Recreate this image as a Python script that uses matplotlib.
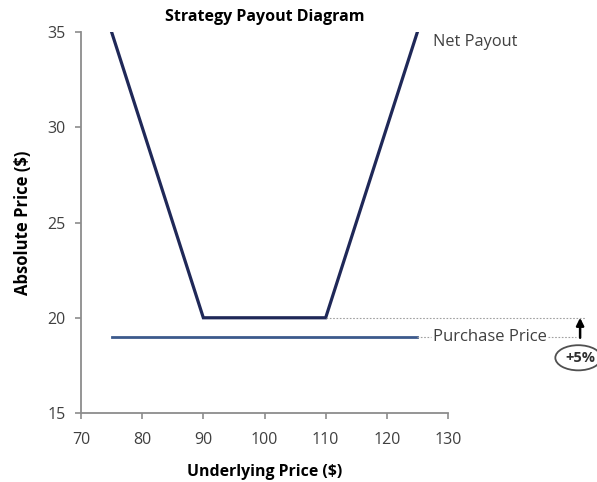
import matplotlib
matplotlib.use('Agg')
import matplotlib.pyplot as plt
from matplotlib.patches import Ellipse

plt.rcParams['font.family'] = ['Open Sans', 'DejaVu Sans']

# payout of the strategy vs the underlying price
underlying = [75, 90, 110, 125]
net_payout = [35, 20, 20, 35]

purchase_x = [75, 125]
purchase_price = 19
floor_price = 20

x_ticks = [70, 80, 90, 100, 110, 120, 130]
y_ticks = [15, 20, 25, 30, 35]

navy = '#1f2858'
steel = '#3c5a8c'
grey = '#8c8c8c'
text_col = '#404040'

fig = plt.figure(figsize=(5.97, 4.82), dpi=100)
ax = fig.add_axes([0.1357, 0.1431, 0.6147, 0.7905])

ax.plot(underlying, net_payout, color=navy, lw=2.3, solid_joinstyle='miter')
ax.plot(purchase_x, [purchase_price] * 2, color=steel, lw=2.0)

ax.set_xlim(70, 130)
ax.set_ylim(15, 35)
ax.set_xticks(x_ticks)
ax.set_yticks(y_ticks)
for s in ['top', 'right']:
    ax.spines[s].set_visible(False)
for s in ['left', 'bottom']:
    ax.spines[s].set_color(grey)
    ax.spines[s].set_linewidth(1.3)
ax.tick_params(colors=grey, labelcolor=text_col, labelsize=11.5, length=4, width=1.2)
ax.tick_params(axis='x', pad=10)
ax.tick_params(axis='y', pad=7)

ax.set_title('Strategy Payout Diagram', fontsize=11.5, fontweight='bold', pad=8)
ax.set_xlabel('Underlying Price ($)', fontsize=11.4, fontweight='bold', labelpad=11)
ax.set_ylabel('Absolute Price ($)', fontsize=12, fontweight='bold', labelpad=11.5)

# labels and the +5% marker to the right of the plot
ax.text(127.5, 34.47, 'Net Payout', fontsize=11.8, color=text_col, va='center', ha='left', clip_on=False)
ax.text(127.5, purchase_price, 'Purchase Price', fontsize=12, color=text_col,
        va='center', ha='left', clip_on=False)

dot_kw = dict(color='#a0a0a0', lw=0.8, ls=(0, (1.5, 1.5)), clip_on=False)
ax.plot([110, 152.5], [floor_price] * 2, **dot_kw)
ax.plot([125, 127.3], [purchase_price] * 2, **dot_kw)
ax.plot([146.4, 151.0], [purchase_price] * 2, **dot_kw)

ax.annotate('', xy=(151.6, floor_price), xytext=(151.6, purchase_price - 0.05),
            arrowprops=dict(arrowstyle='-|>', color='black', lw=1.8, mutation_scale=11,
                            shrinkA=0, shrinkB=0),
            annotation_clip=False)
ax.add_patch(Ellipse((151.3, 17.9), 7.5, 1.32, fill=False, ec='#505050', lw=1.3, clip_on=False))
ax.text(151.6, 17.9, '+5%', fontsize=10.5, fontweight='bold', color='#303030',
        ha='center', va='center', clip_on=False)

fig.savefig('out.png', dpi=100)
